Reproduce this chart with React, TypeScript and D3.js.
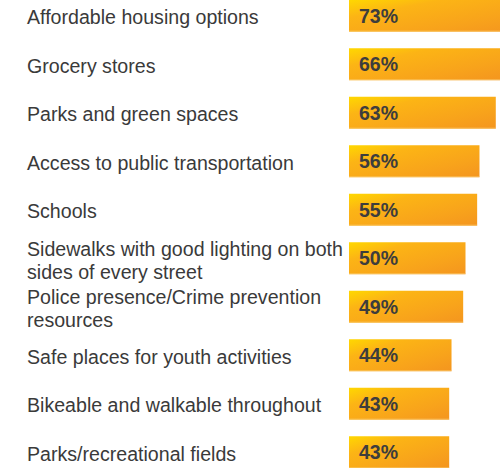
import React from "react";
import * as d3 from "d3";

const categories: string[][] = [
  ["Affordable housing options"],
  ["Grocery stores"],
  ["Parks and green spaces"],
  ["Access to public transportation"],
  ["Schools"],
  ["Sidewalks with good lighting on both", "sides of every street"],
  ["Police presence/Crime prevention", "resources"],
  ["Safe places for youth activities"],
  ["Bikeable and walkable throughout"],
  ["Parks/recreational fields"],
];
const values: number[] = [73, 66, 63, 56, 55, 50, 49, 44, 43, 43];
const valueLabels: string[] = ["73%", "66%", "63%", "56%", "55%", "50%", "49%", "44%", "43%", "43%"];

const W = 500;
const H = 468;

export default function App() {
  const x = d3.scaleLinear().domain([0, 100]).range([349, 349 + 233]);
  const y = d3
    .scaleBand<number>()
    .domain(d3.range(values.length))
    .range([-8.5, -8.5 + 48.5 * values.length])
    .paddingInner(0.34)
    .paddingOuter(0.17);
  const bh = 32;
  const font = "'Liberation Sans', Arial, Helvetica, sans-serif";
  return (
    <div style={{ position: "absolute", left: 0, top: 0 }}>
      <svg width={W} height={H} style={{ display: "block", background: "#fff" }}>
        <defs>
          <linearGradient id="barGrad" x1="0" y1="0" x2="1" y2="1">
            <stop offset="0" stopColor="#FFD800" />
            <stop offset="0.28" stopColor="#FCB415" />
            <stop offset="0.7" stopColor="#F8A31B" />
            <stop offset="1" stopColor="#F4951F" />
          </linearGradient>
        </defs>
        {values.map((v, i) => {
          const cy = (y(i) as number) + y.bandwidth() / 2;
          const top = cy - bh / 2;
          const lines = categories[i];
          return (
            <g key={i}>
              <rect x={x(0)} y={top} width={x(v) - x(0)} height={bh} fill="url(#barGrad)" />
              <rect x={x(0)} y={top + bh - 1.2} width={x(v) - x(0)} height={1.2} fill="#FBD27A" opacity={0.5} />
              <text
                x={x(0) + 10}
                y={cy + 7}
                fontFamily={font}
                fontWeight="bold"
                fontSize={19.5}
                fill="#3d3d3d"
              >
                {valueLabels[i]}
              </text>
              {lines.length === 1 ? (
                <text x={27} y={cy + 8.5} fontFamily={font} fontSize={19.6} fill="#3a3a3a">
                  {lines[0]}
                </text>
              ) : (
                lines.map((l, k) => (
                  <text key={k} x={27} y={cy - 2.5 + k * 23} fontFamily={font} fontSize={19.6} fill="#3a3a3a">
                    {l}
                  </text>
                ))
              )}
            </g>
          );
        })}
      </svg>
    </div>
  );
}
